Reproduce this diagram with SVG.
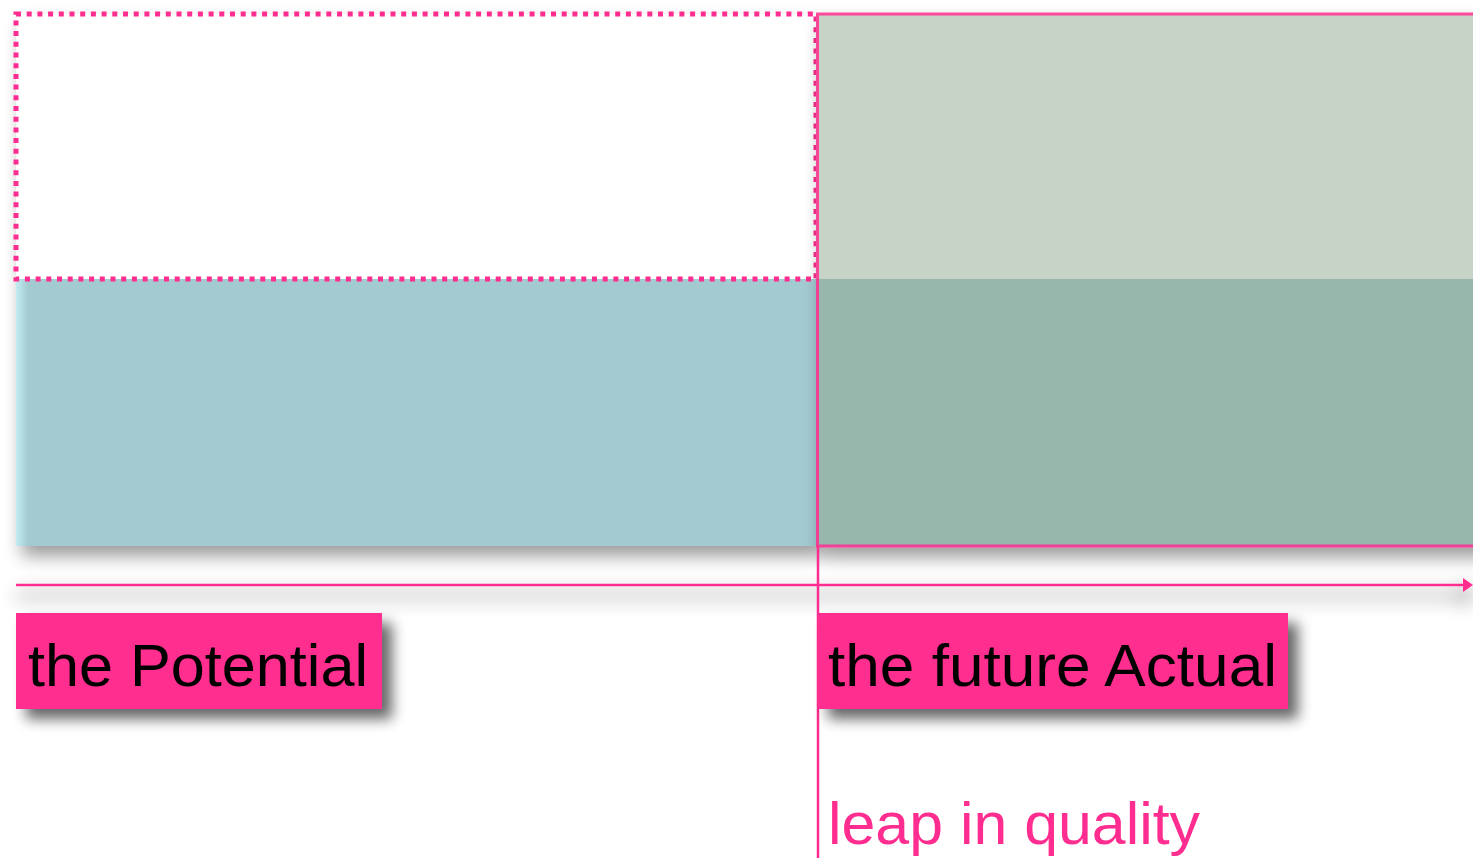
<svg xmlns="http://www.w3.org/2000/svg" width="1473" height="858" viewBox="0 0 1473 858">
<defs>
<filter id="sh" x="-10%" y="-10%" width="130%" height="140%">
<feGaussianBlur in="SourceAlpha" stdDeviation="9"/>
<feOffset dx="6" dy="10" result="b"/>
<feComponentTransfer><feFuncA type="linear" slope="0.4"/></feComponentTransfer>
<feMerge><feMergeNode/><feMergeNode in="SourceGraphic"/></feMerge>
</filter>
<filter id="shl" x="-10%" y="-30%" width="130%" height="170%">
<feGaussianBlur in="SourceAlpha" stdDeviation="7"/>
<feOffset dx="10" dy="10" result="b"/>
<feComponentTransfer><feFuncA type="linear" slope="0.6"/></feComponentTransfer>
<feMerge><feMergeNode/><feMergeNode in="SourceGraphic"/></feMerge>
</filter>
<filter id="sha" filterUnits="userSpaceOnUse" x="0" y="540" width="1473" height="90">
<feGaussianBlur in="SourceAlpha" stdDeviation="10"/>
<feOffset dx="0" dy="10"/>
<feComponentTransfer><feFuncA type="linear" slope="0.9"/></feComponentTransfer>
<feMerge><feMergeNode/><feMergeNode in="SourceGraphic"/></feMerge>
</filter>
<marker id="arr" markerWidth="10" markerHeight="14" refX="4" refY="7" orient="auto" markerUnits="userSpaceOnUse">
<path d="M0,0 L10,7 L0,14 Z" fill="#ff2d8f"/>
</marker>
<linearGradient id="blueEdge" x1="0" x2="1" y1="0" y2="0">
<stop offset="0" stop-color="#c2ecf3"/>
<stop offset="1" stop-color="#a3cad1"/>
</linearGradient>
</defs>
<style>
.lbl{fill:#ff2d8f}
.lt{font-family:"Liberation Sans",Arial,sans-serif;font-size:60px;fill:#000}
.pk{stroke:#ff2d8f;fill:none}
</style>
<rect width="1473" height="858" fill="#fff"/>
<g id="potential-area" filter="url(#sh)">
<rect x="16" y="14" width="800" height="265" fill="#fff"/>
<rect x="16" y="279" width="800" height="267" fill="#a3cad1"/>
<rect x="16" y="279" width="12" height="267" fill="url(#blueEdge)"/>
</g>
<g id="potential-outline">
<rect x="16" y="14" width="800" height="265" class="pk" stroke-width="5" stroke-dasharray="5 5.7"/>
</g>
<g id="actual-area" filter="url(#sh)">
<rect x="816" y="14" width="670" height="265" fill="#c8d3c7"/>
<rect x="816" y="279" width="670" height="267" fill="#97b7ad"/>
<rect x="817.5" y="14" width="670" height="532" fill="none" stroke="#ff2d8f" stroke-opacity="0.85" stroke-width="3"/>
</g>
<g id="connectors">
<line x1="16" y1="585" x2="1467" y2="585" stroke="#ff2d8f" stroke-width="2.5" marker-end="url(#arr)" filter="url(#sha)"/>
<line x1="818" y1="546" x2="818" y2="858" stroke="#ff2d8f" stroke-width="2.5"/>
</g>
<g id="label-potential" filter="url(#shl)">
<rect x="16" y="613" width="366" height="96" class="lbl"/>
<text x="28" y="686" class="lt" textLength="340" lengthAdjust="spacingAndGlyphs">the Potential</text>
</g>
<g id="label-actual" filter="url(#shl)">
<rect x="818" y="613" width="470" height="96" class="lbl"/>
<text x="828" y="686" class="lt" textLength="449" lengthAdjust="spacingAndGlyphs">the future Actual</text>
</g>
<g id="label-leap">
<text x="828" y="844" font-family="Liberation Sans, Arial, sans-serif" font-size="60" fill="#ff2d8f" textLength="372" lengthAdjust="spacingAndGlyphs">leap in quality</text>
</g>
</svg>
